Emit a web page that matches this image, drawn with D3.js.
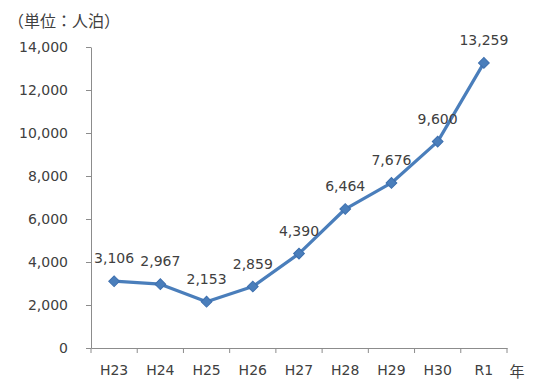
<!DOCTYPE html>
<html><head><meta charset="utf-8">
<script src="https://cdn.jsdelivr.net/npm/d3@7"></script>
<style>body{margin:0;background:#fff}text{font-family:"DejaVu Sans","Noto Sans CJK JP",sans-serif}</style>
</head><body>
<svg id="c" width="534" height="381"></svg>
<script>
const categories = ["H23","H24","H25","H26","H27","H28","H29","H30","R1"];
const values = [3106,2967,2153,2859,4390,6464,7676,9600,13259];
const yTicks = [0,2000,4000,6000,8000,10000,12000,14000];

const svg = d3.select("#c");
const m = {l:91, r:507, t:47, b:348};
const x = d3.scaleBand().domain(categories).range([m.l, m.r]);
const y = d3.scaleLinear().domain([0,14000]).range([m.b, m.t]);
const fmt = d3.format(",");
const txt = "#404040", axc = "#8c8c8c";
const fs = 14;

const ya = svg.append("g").attr("transform",`translate(${m.l},0)`)
  .call(d3.axisLeft(y).tickValues(yTicks).tickFormat(fmt).tickSize(5).tickSizeOuter(0));
ya.select(".domain").attr("stroke",axc);
ya.selectAll(".tick line").attr("stroke",axc);
ya.selectAll(".tick text").attr("fill",txt).attr("font-size",fs).attr("x",-23).attr("font-family","DejaVu Sans");

const xa = svg.append("g").attr("transform",`translate(0,${m.b})`)
  .call(d3.axisBottom(x).tickSize(0));
xa.select(".domain").attr("stroke",axc);
xa.selectAll(".tick text").attr("fill",txt).attr("font-size",fs).attr("dy","0.75em").attr("y",16).attr("font-family","DejaVu Sans");
const bounds = categories.map(c => x(c)).concat([m.r]);
xa.selectAll(".bt").data(bounds).enter().append("line")
  .attr("x1",d=>d).attr("x2",d=>d).attr("y1",0).attr("y2",5).attr("stroke",axc);

svg.append("text").attr("x",517).attr("y",377).attr("fill",txt).attr("font-size",15).attr("text-anchor","middle").text("年");
svg.append("text").attr("x",8).attr("y",27).attr("fill",txt).attr("font-size",16).text("（単位：人泊）");

const cx = d => x(d) + x.bandwidth()/2;
const line = d3.line().x((d,i)=>cx(categories[i])).y(d=>y(d));
svg.append("path").datum(values).attr("d",line).attr("fill","none")
  .attr("stroke","#4a7ebb").attr("stroke-width",3.2).attr("stroke-linejoin","round");
svg.selectAll(".pt").data(values).enter().append("path")
  .attr("d",d3.symbol(d3.symbolSquare,58)())
  .attr("transform",(d,i)=>`translate(${cx(categories[i])},${y(d)}) rotate(45)`)
  .attr("fill","#4a7ebb").attr("stroke","#3d6fae").attr("stroke-width",1);
svg.selectAll(".lb").data(values).enter().append("text")
  .attr("x",(d,i)=>cx(categories[i])).attr("y",d=>y(d)-18)
  .attr("text-anchor","middle").attr("fill",txt).attr("font-size",fs)
  .text(d=>fmt(d));
</script>
</body></html>
